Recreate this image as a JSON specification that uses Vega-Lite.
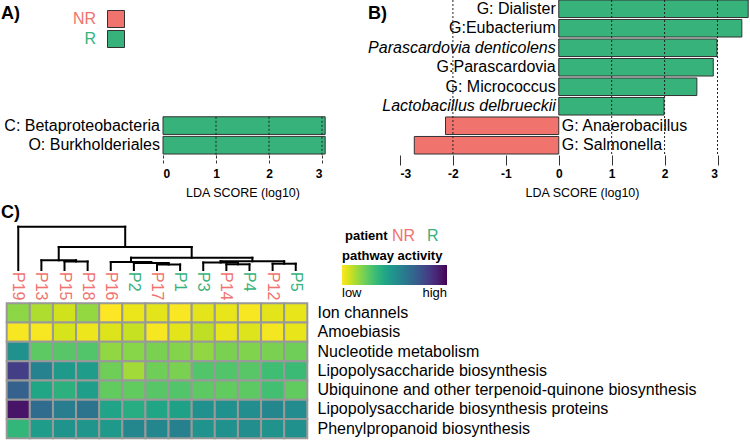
{
  "$schema": "https://vega.github.io/schema/vega-lite/v6.json",
  "width": 750,
  "height": 441,
  "padding": 0,
  "autosize": {"type": "none"},
  "config": {"view": {"stroke": null}, "font": "Liberation Sans", "axis": {"labelColor": "#000", "titleColor": "#000", "titleFontSize": 12.5, "titleFontWeight": "normal"}},
  "datasets": {
    "A": [
      {"taxon": "C: Betaproteobacteria", "lda": 3.06, "group": "R"},
      {"taxon": "O: Burkholderiales", "lda": 3.06, "group": "R"}
    ],
    "B": [
      {"taxon": "G: Dialister", "lda": 3.58, "group": "R"},
      {"taxon": "G:Eubacterium", "lda": 3.46, "group": "R"},
      {"taxon": "Parascardovia denticolens", "lda": 2.99, "group": "R"},
      {"taxon": "G:Parascardovia", "lda": 2.92, "group": "R"},
      {"taxon": "G: Micrococcus", "lda": 2.61, "group": "R"},
      {"taxon": "Lactobacillus delbrueckii", "lda": 1.99, "group": "R"},
      {"taxon": "G: Anaerobacillus", "lda": -2.14, "group": "NR"},
      {"taxon": "G: Salmonella", "lda": -2.73, "group": "NR"}
    ],
    "gridA": [{"v": 1}, {"v": 2}, {"v": 3}],
    "gridB": [{"v": -2}, {"v": 1}, {"v": 2}, {"v": 3}],
    "patients": [
      {"patient": "P19", "group": "NR", "leaf": 0},
      {"patient": "P13", "group": "NR", "leaf": 1},
      {"patient": "P15", "group": "NR", "leaf": 2},
      {"patient": "P18", "group": "NR", "leaf": 3},
      {"patient": "P16", "group": "NR", "leaf": 4},
      {"patient": "P2", "group": "R", "leaf": 5},
      {"patient": "P17", "group": "NR", "leaf": 6},
      {"patient": "P1", "group": "R", "leaf": 7},
      {"patient": "P3", "group": "R", "leaf": 8},
      {"patient": "P14", "group": "NR", "leaf": 9},
      {"patient": "P4", "group": "R", "leaf": 10},
      {"patient": "P12", "group": "NR", "leaf": 11},
      {"patient": "P5", "group": "R", "leaf": 12}
    ],
    "dendro": [
      {"x1": 0, "x2": 4.625, "h1": 43.3, "h2": 43.3},
      {"x1": 1.75, "x2": 7.5, "h1": 23, "h2": 23},
      {"x1": 1, "x2": 2.5, "h1": 9.7, "h2": 9.7},
      {"x1": 2, "x2": 3, "h1": 8.5, "h2": 8.5},
      {"x1": 4.875, "x2": 10.125, "h1": 12.3, "h2": 12.3},
      {"x1": 4, "x2": 5.75, "h1": 8, "h2": 8},
      {"x1": 5, "x2": 6.5, "h1": 7, "h2": 7},
      {"x1": 6, "x2": 7, "h1": 5.5, "h2": 5.5},
      {"x1": 8.75, "x2": 11.5, "h1": 8.7, "h2": 8.7},
      {"x1": 8, "x2": 9.5, "h1": 7.5, "h2": 7.5},
      {"x1": 9, "x2": 10, "h1": 5.7, "h2": 5.7},
      {"x1": 11, "x2": 12, "h1": 6.3, "h2": 6.3},
      {"x1": 0, "x2": 0, "h1": 0, "h2": 43.3},
      {"x1": 4.625, "x2": 4.625, "h1": 23, "h2": 43.3},
      {"x1": 1.75, "x2": 1.75, "h1": 9.7, "h2": 23},
      {"x1": 7.5, "x2": 7.5, "h1": 12.3, "h2": 23},
      {"x1": 1, "x2": 1, "h1": 0, "h2": 9.7},
      {"x1": 2.5, "x2": 2.5, "h1": 8.5, "h2": 9.7},
      {"x1": 2, "x2": 2, "h1": 0, "h2": 8.5},
      {"x1": 3, "x2": 3, "h1": 0, "h2": 8.5},
      {"x1": 4.875, "x2": 4.875, "h1": 8, "h2": 12.3},
      {"x1": 10.125, "x2": 10.125, "h1": 8.7, "h2": 12.3},
      {"x1": 4, "x2": 4, "h1": 0, "h2": 8},
      {"x1": 5.75, "x2": 5.75, "h1": 7, "h2": 8},
      {"x1": 5, "x2": 5, "h1": 0, "h2": 7},
      {"x1": 6.5, "x2": 6.5, "h1": 5.5, "h2": 7},
      {"x1": 6, "x2": 6, "h1": 0, "h2": 5.5},
      {"x1": 7, "x2": 7, "h1": 0, "h2": 5.5},
      {"x1": 8.75, "x2": 8.75, "h1": 7.5, "h2": 8.7},
      {"x1": 11.5, "x2": 11.5, "h1": 6.3, "h2": 8.7},
      {"x1": 8, "x2": 8, "h1": 0, "h2": 7.5},
      {"x1": 9.5, "x2": 9.5, "h1": 5.7, "h2": 7.5},
      {"x1": 9, "x2": 9, "h1": 0, "h2": 5.7},
      {"x1": 10, "x2": 10, "h1": 0, "h2": 5.7},
      {"x1": 11, "x2": 11, "h1": 0, "h2": 6.3},
      {"x1": 12, "x2": 12, "h1": 0, "h2": 6.3}
    ],
    "panels": [
      {"panel": "A)", "col": 0, "row": 0},
      {"panel": "B)", "col": 1, "row": 0},
      {"panel": "C)", "col": 0, "row": 1}
    ],
    "heat": [
      {"pathway": "Ion channels", "patient": "P19", "activity": 0.17},
      {"pathway": "Ion channels", "patient": "P13", "activity": 0.12},
      {"pathway": "Ion channels", "patient": "P15", "activity": 0.07},
      {"pathway": "Ion channels", "patient": "P18", "activity": 0.16},
      {"pathway": "Ion channels", "patient": "P16", "activity": 0.0},
      {"pathway": "Ion channels", "patient": "P2", "activity": 0.03},
      {"pathway": "Ion channels", "patient": "P17", "activity": 0.04},
      {"pathway": "Ion channels", "patient": "P1", "activity": 0.005},
      {"pathway": "Ion channels", "patient": "P3", "activity": 0.04},
      {"pathway": "Ion channels", "patient": "P14", "activity": 0.035},
      {"pathway": "Ion channels", "patient": "P4", "activity": 0.01},
      {"pathway": "Ion channels", "patient": "P12", "activity": 0.04},
      {"pathway": "Ion channels", "patient": "P5", "activity": 0.035},
      {"pathway": "Amoebiasis", "patient": "P19", "activity": 0.01},
      {"pathway": "Amoebiasis", "patient": "P13", "activity": 0.01},
      {"pathway": "Amoebiasis", "patient": "P15", "activity": 0.06},
      {"pathway": "Amoebiasis", "patient": "P18", "activity": 0.025},
      {"pathway": "Amoebiasis", "patient": "P16", "activity": 0.05},
      {"pathway": "Amoebiasis", "patient": "P2", "activity": 0.085},
      {"pathway": "Amoebiasis", "patient": "P17", "activity": 0.01},
      {"pathway": "Amoebiasis", "patient": "P1", "activity": 0.04},
      {"pathway": "Amoebiasis", "patient": "P3", "activity": 0.095},
      {"pathway": "Amoebiasis", "patient": "P14", "activity": 0.035},
      {"pathway": "Amoebiasis", "patient": "P4", "activity": 0.05},
      {"pathway": "Amoebiasis", "patient": "P12", "activity": 0.015},
      {"pathway": "Amoebiasis", "patient": "P5", "activity": 0.035},
      {"pathway": "Nucleotide metabolism", "patient": "P19", "activity": 0.5},
      {"pathway": "Nucleotide metabolism", "patient": "P13", "activity": 0.25},
      {"pathway": "Nucleotide metabolism", "patient": "P15", "activity": 0.26},
      {"pathway": "Nucleotide metabolism", "patient": "P18", "activity": 0.27},
      {"pathway": "Nucleotide metabolism", "patient": "P16", "activity": 0.165},
      {"pathway": "Nucleotide metabolism", "patient": "P2", "activity": 0.18},
      {"pathway": "Nucleotide metabolism", "patient": "P17", "activity": 0.2},
      {"pathway": "Nucleotide metabolism", "patient": "P1", "activity": 0.185},
      {"pathway": "Nucleotide metabolism", "patient": "P3", "activity": 0.165},
      {"pathway": "Nucleotide metabolism", "patient": "P14", "activity": 0.2},
      {"pathway": "Nucleotide metabolism", "patient": "P4", "activity": 0.19},
      {"pathway": "Nucleotide metabolism", "patient": "P12", "activity": 0.2},
      {"pathway": "Nucleotide metabolism", "patient": "P5", "activity": 0.22},
      {"pathway": "Lipopolysaccharide biosynthesis", "patient": "P19", "activity": 0.82},
      {"pathway": "Lipopolysaccharide biosynthesis", "patient": "P13", "activity": 0.56},
      {"pathway": "Lipopolysaccharide biosynthesis", "patient": "P15", "activity": 0.46},
      {"pathway": "Lipopolysaccharide biosynthesis", "patient": "P18", "activity": 0.45},
      {"pathway": "Lipopolysaccharide biosynthesis", "patient": "P16", "activity": 0.22},
      {"pathway": "Lipopolysaccharide biosynthesis", "patient": "P2", "activity": 0.14},
      {"pathway": "Lipopolysaccharide biosynthesis", "patient": "P17", "activity": 0.22},
      {"pathway": "Lipopolysaccharide biosynthesis", "patient": "P1", "activity": 0.2},
      {"pathway": "Lipopolysaccharide biosynthesis", "patient": "P3", "activity": 0.27},
      {"pathway": "Lipopolysaccharide biosynthesis", "patient": "P14", "activity": 0.27},
      {"pathway": "Lipopolysaccharide biosynthesis", "patient": "P4", "activity": 0.26},
      {"pathway": "Lipopolysaccharide biosynthesis", "patient": "P12", "activity": 0.31},
      {"pathway": "Lipopolysaccharide biosynthesis", "patient": "P5", "activity": 0.32},
      {"pathway": "Ubiquinone and other terpenoid-quinone biosynthesis", "patient": "P19", "activity": 0.69},
      {"pathway": "Ubiquinone and other terpenoid-quinone biosynthesis", "patient": "P13", "activity": 0.41},
      {"pathway": "Ubiquinone and other terpenoid-quinone biosynthesis", "patient": "P15", "activity": 0.36},
      {"pathway": "Ubiquinone and other terpenoid-quinone biosynthesis", "patient": "P18", "activity": 0.44},
      {"pathway": "Ubiquinone and other terpenoid-quinone biosynthesis", "patient": "P16", "activity": 0.24},
      {"pathway": "Ubiquinone and other terpenoid-quinone biosynthesis", "patient": "P2", "activity": 0.24},
      {"pathway": "Ubiquinone and other terpenoid-quinone biosynthesis", "patient": "P17", "activity": 0.26},
      {"pathway": "Ubiquinone and other terpenoid-quinone biosynthesis", "patient": "P1", "activity": 0.27},
      {"pathway": "Ubiquinone and other terpenoid-quinone biosynthesis", "patient": "P3", "activity": 0.25},
      {"pathway": "Ubiquinone and other terpenoid-quinone biosynthesis", "patient": "P14", "activity": 0.24},
      {"pathway": "Ubiquinone and other terpenoid-quinone biosynthesis", "patient": "P4", "activity": 0.25},
      {"pathway": "Ubiquinone and other terpenoid-quinone biosynthesis", "patient": "P12", "activity": 0.3},
      {"pathway": "Ubiquinone and other terpenoid-quinone biosynthesis", "patient": "P5", "activity": 0.24},
      {"pathway": "Lipopolysaccharide biosynthesis proteins", "patient": "P19", "activity": 0.95},
      {"pathway": "Lipopolysaccharide biosynthesis proteins", "patient": "P13", "activity": 0.65},
      {"pathway": "Lipopolysaccharide biosynthesis proteins", "patient": "P15", "activity": 0.58},
      {"pathway": "Lipopolysaccharide biosynthesis proteins", "patient": "P18", "activity": 0.62},
      {"pathway": "Lipopolysaccharide biosynthesis proteins", "patient": "P16", "activity": 0.42},
      {"pathway": "Lipopolysaccharide biosynthesis proteins", "patient": "P2", "activity": 0.38},
      {"pathway": "Lipopolysaccharide biosynthesis proteins", "patient": "P17", "activity": 0.41},
      {"pathway": "Lipopolysaccharide biosynthesis proteins", "patient": "P1", "activity": 0.43},
      {"pathway": "Lipopolysaccharide biosynthesis proteins", "patient": "P3", "activity": 0.5},
      {"pathway": "Lipopolysaccharide biosynthesis proteins", "patient": "P14", "activity": 0.5},
      {"pathway": "Lipopolysaccharide biosynthesis proteins", "patient": "P4", "activity": 0.51},
      {"pathway": "Lipopolysaccharide biosynthesis proteins", "patient": "P12", "activity": 0.54},
      {"pathway": "Lipopolysaccharide biosynthesis proteins", "patient": "P5", "activity": 0.52},
      {"pathway": "Phenylpropanoid biosynthesis", "patient": "P19", "activity": 0.34},
      {"pathway": "Phenylpropanoid biosynthesis", "patient": "P13", "activity": 0.45},
      {"pathway": "Phenylpropanoid biosynthesis", "patient": "P15", "activity": 0.49},
      {"pathway": "Phenylpropanoid biosynthesis", "patient": "P18", "activity": 0.48},
      {"pathway": "Phenylpropanoid biosynthesis", "patient": "P16", "activity": 0.46},
      {"pathway": "Phenylpropanoid biosynthesis", "patient": "P2", "activity": 0.54},
      {"pathway": "Phenylpropanoid biosynthesis", "patient": "P17", "activity": 0.54},
      {"pathway": "Phenylpropanoid biosynthesis", "patient": "P1", "activity": 0.57},
      {"pathway": "Phenylpropanoid biosynthesis", "patient": "P3", "activity": 0.49},
      {"pathway": "Phenylpropanoid biosynthesis", "patient": "P14", "activity": 0.5},
      {"pathway": "Phenylpropanoid biosynthesis", "patient": "P4", "activity": 0.51},
      {"pathway": "Phenylpropanoid biosynthesis", "patient": "P12", "activity": 0.49},
      {"pathway": "Phenylpropanoid biosynthesis", "patient": "P5", "activity": 0.5}
    ]
  },
  "layer": [
    {
      "data": {"name": "A"},
      "layer": [
        {
          "mark": {"type": "bar", "stroke": "#333", "strokeWidth": 1},
          "encoding": {
            "x": {"field": "lda", "type": "quantitative",
              "scale": {"domain": [0, 3], "range": [163, 322], "nice": false, "zero": false},
              "axis": {"orient": "bottom", "offset": -286, "values": [0, 1, 2, 3], "labelExpr": "'' + datum.value", "domain": false, "grid": false,
                "tickSize": 10, "tickDash": [3, 2], "tickColor": "#333", "labelFontSize": 12, "labelFontWeight": "bold",
                "labelPadding": 3, "title": "LDA SCORE (log10)", "titleFontSize": 12.5, "titleFontWeight": "normal",
                "titleY": 31, "titleBaseline": "top"}},
            "y": {"field": "taxon", "type": "nominal", "sort": null,
              "scale": {"domain": ["C: Betaproteobacteria", "O: Burkholderiales"], "range": [115.8, 155], "paddingInner": 0.1, "paddingOuter": 0.05},
              "axis": {"orient": "left", "offset": -163, "title": null, "domain": false, "ticks": false, "tickSize": 0,
                "labelPadding": 3.5, "labelFontSize": 16, "labelLimit": 400}},
            "color": {"field": "group", "type": "nominal",
              "scale": {"domain": ["NR", "R"], "range": ["#f0736e", "#37b27b"]},
              "legend": {"orient": "none", "legendX": 107, "legendY": 10, "direction": "vertical", "title": null,
                "symbolType": "square", "symbolSize": 289, "symbolStrokeColor": "#333", "symbolStrokeWidth": 1,
                "labelAlign": "right", "labelOffset": -29, "labelFontSize": 16,
                "labelColor": {"expr": "datum.label == 'NR' ? '#f0736e' : '#37b27b'"}, "rowPadding": -2, "padding": 0}}
          }
        },
        {
          "data": {"name": "gridA"},
          "mark": {"type": "rule", "strokeDash": [2, 2], "color": "#222", "strokeWidth": 1},
          "encoding": {
            "x": {"field": "v", "type": "quantitative",
              "axis": {"orient": "bottom", "offset": -286, "values": [0, 1, 2, 3], "labelExpr": "'' + datum.value", "domain": false, "grid": false,
                "tickSize": 10, "tickDash": [3, 2], "tickColor": "#333", "labelFontSize": 12, "labelFontWeight": "bold",
                "labelPadding": 3, "title": "LDA SCORE (log10)", "titleFontSize": 12.5, "titleFontWeight": "normal",
                "titleY": 31, "titleBaseline": "top"}},
            "y": {"datum": 0, "type": "quantitative", "scale": {"domain": [0, 1], "range": [116.8, 155], "nice": false, "zero": false}, "axis": null},
            "y2": {"datum": 1}
          }
        }
      ],
      "resolve": {"scale": {"y": "independent"}, "axis": {"y": "independent"}}
    },
    {
      "data": {"name": "B"},
      "layer": [
        {
          "layer": [
            {
              "mark": {"type": "bar", "stroke": "#333", "strokeWidth": 1},
              "encoding": {
                "x": {"field": "lda", "type": "quantitative",
                  "scale": {"domain": [-3, 3], "range": [400, 717.5], "nice": false, "zero": false},
                  "axis": {"orient": "bottom", "offset": -286, "values": [-3, -2, -1, 0, 1, 2, 3], "labelExpr": "'' + datum.value", "domain": false, "grid": false,
                    "tickSize": 10, "tickColor": "#333", "labelFontSize": 12, "labelFontWeight": "bold",
                    "labelPadding": 3, "title": "LDA SCORE (log10)", "titleFontSize": 12.5, "titleFontWeight": "normal",
                    "titleX": 582, "titleY": 31, "titleBaseline": "top"}},
                "y": {"field": "taxon", "type": "nominal", "sort": null,
                  "scale": {"domain": ["G: Dialister", "G:Eubacterium", "Parascardovia denticolens", "G:Parascardovia", "G: Micrococcus", "Lactobacillus delbrueckii", "G: Anaerobacillus", "G: Salmonella"],
                    "range": [-1, 155], "paddingInner": 0.1, "paddingOuter": 0.05},
                  "axis": null},
                "color": {"field": "group", "type": "nominal",
                  "scale": {"domain": ["NR", "R"], "range": ["#f0736e", "#37b27b"]}, "legend": null}
              }
            },
            {
              "transform": [{"filter": "datum.lda > 0 && datum.taxon != 'Parascardovia denticolens' && datum.taxon != 'Lactobacillus delbrueckii'"}],
              "mark": {"type": "text", "align": "right", "baseline": "middle", "dx": -3, "fontSize": 16, "color": "#000"},
              "encoding": {
                "x": {"datum": 0, "type": "quantitative"},
                "y": {"field": "taxon", "type": "nominal"},
                "text": {"field": "taxon"}
              }
            },
            {
              "transform": [{"filter": "datum.taxon == 'Parascardovia denticolens' || datum.taxon == 'Lactobacillus delbrueckii'"}],
              "mark": {"type": "text", "align": "right", "baseline": "middle", "dx": -3, "fontSize": 16, "fontStyle": "italic", "color": "#000"},
              "encoding": {
                "x": {"datum": 0, "type": "quantitative"},
                "y": {"field": "taxon", "type": "nominal"},
                "text": {"field": "taxon"}
              }
            },
            {
              "transform": [{"filter": "datum.lda < 0"}],
              "mark": {"type": "text", "align": "left", "baseline": "middle", "dx": 3, "fontSize": 16, "color": "#000"},
              "encoding": {
                "x": {"datum": 0, "type": "quantitative"},
                "y": {"field": "taxon", "type": "nominal"},
                "text": {"field": "taxon"}
              }
            }
          ]
        },
        {
          "data": {"name": "gridB"},
          "mark": {"type": "rule", "strokeDash": [2, 2], "color": "#222", "strokeWidth": 1},
          "encoding": {
            "x": {"field": "v", "type": "quantitative",
              "axis": {"orient": "bottom", "offset": -286, "values": [-3, -2, -1, 0, 1, 2, 3], "labelExpr": "'' + datum.value", "domain": false, "grid": false,
                "tickSize": 10, "tickColor": "#333", "labelFontSize": 12, "labelFontWeight": "bold",
                "labelPadding": 3, "title": "LDA SCORE (log10)", "titleFontSize": 12.5, "titleFontWeight": "normal",
                "titleX": 582, "titleY": 31, "titleBaseline": "top"}},
            "y": {"datum": 0, "type": "quantitative", "scale": {"domain": [0, 1], "range": [0, 155], "nice": false, "zero": false}, "axis": null},
            "y2": {"datum": 1}
          }
        }
      ],
      "resolve": {"scale": {"y": "independent"}, "axis": {"y": "independent"}}
    },
    {
      "data": {"name": "heat"},
      "mark": {"type": "rect", "stroke": "#999", "strokeWidth": 2},
      "encoding": {
        "x": {"field": "patient", "type": "nominal", "sort": null,
          "scale": {"domain": ["P19", "P13", "P15", "P18", "P16", "P2", "P17", "P1", "P3", "P14", "P4", "P12", "P5"], "range": [6.7, 307.3], "paddingInner": 0, "paddingOuter": 0},
          "axis": null},
        "y": {"field": "pathway", "type": "nominal", "sort": null,
          "scale": {"domain": ["Ion channels", "Amoebiasis", "Nucleotide metabolism", "Lipopolysaccharide biosynthesis", "Ubiquinone and other terpenoid-quinone biosynthesis", "Lipopolysaccharide biosynthesis proteins", "Phenylpropanoid biosynthesis"], "range": [303.3, 438.3], "paddingInner": 0, "paddingOuter": 0},
          "axis": {"orient": "right", "offset": -440, "title": null, "domain": false, "ticks": false, "tickSize": 0,
            "labelPadding": 7, "labelFontSize": 16, "labelLimit": 1000}},
        "color": {"field": "activity", "type": "quantitative",
          "scale": {"scheme": "viridis", "reverse": true, "domain": [0, 1]},
          "legend": {"orient": "none", "legendX": 342, "legendY": 250, "direction": "horizontal", "title": "pathway activity",
            "titleFontSize": 13, "titleFontWeight": "bold", "titleColor": "#000", "titlePadding": 2,
            "gradientLength": 105, "gradientThickness": 20, "gradientStrokeWidth": 0, "values": [0, 1],
            "labelExpr": "datum.value == 0 ? 'low' : 'high'", "labelAlign": "center", "labelFontSize": 13,
            "labelOffset": 2, "labelColor": "#000", "padding": 0}}
      }
    },
    {
      "layer": [
        {
          "data": {"name": "dendro"},
          "mark": {"type": "rule", "color": "#000", "strokeWidth": 2, "strokeCap": "square"},
          "encoding": {
            "x": {"field": "x1", "type": "quantitative", "scale": {"domain": [-0.5, 12.5], "range": [6.7, 307.3], "nice": false, "zero": false}, "axis": null},
            "x2": {"field": "x2"},
            "y": {"field": "h1", "type": "quantitative", "scale": {"domain": [0, 50], "range": [270, 220], "nice": false, "zero": false}, "axis": null},
            "y2": {"field": "h2"}
          }
        },
        {
          "data": {"name": "patients"},
          "mark": {"type": "text", "angle": 90, "align": "left", "baseline": "middle", "fontSize": 16, "dx": 2},
          "encoding": {
            "x": {"field": "leaf", "type": "quantitative", "scale": {"domain": [-0.5, 12.5], "range": [6.7, 307.3], "nice": false, "zero": false}, "axis": null},
            "y": {"datum": 0, "type": "quantitative", "axis": null},
            "text": {"field": "patient"},
            "color": {"field": "group", "type": "nominal",
              "scale": {"domain": ["NR", "R"], "range": ["#f0736e", "#37b27b"]},
              "legend": {"orient": "none", "legendX": 345, "legendY": 228, "direction": "horizontal", "title": "patient",
                "titleOrient": "left", "titleFontSize": 13, "titleFontWeight": "bold", "titleColor": "#000", "titlePadding": 5,
                "symbolSize": 0, "symbolOpacity": 0, "symbolStrokeWidth": 0, "labelOffset": -17, "labelFontSize": 16,
                "labelColor": {"expr": "datum.label == 'NR' ? '#f0736e' : '#37b27b'"}, "columnPadding": 11, "padding": 0}}
          }
        }
      ]
    },
    {
      "data": {"name": "panels"},
      "mark": {"type": "text", "align": "left", "baseline": "middle", "fontSize": 18, "fontWeight": "bold", "color": "#000"},
      "encoding": {
        "x": {"field": "col", "type": "quantitative", "scale": {"domain": [0, 1], "range": [1, 368], "nice": false, "zero": false}, "axis": null},
        "y": {"field": "row", "type": "quantitative", "scale": {"domain": [0, 1], "range": [13.5, 213], "nice": false, "zero": false}, "axis": null},
        "text": {"field": "panel"}
      }
    }
  ],
  "resolve": {
    "scale": {"x": "independent", "y": "independent", "color": "independent"},
    "axis": {"x": "independent", "y": "independent"},
    "legend": {"color": "independent"}
  }
}
